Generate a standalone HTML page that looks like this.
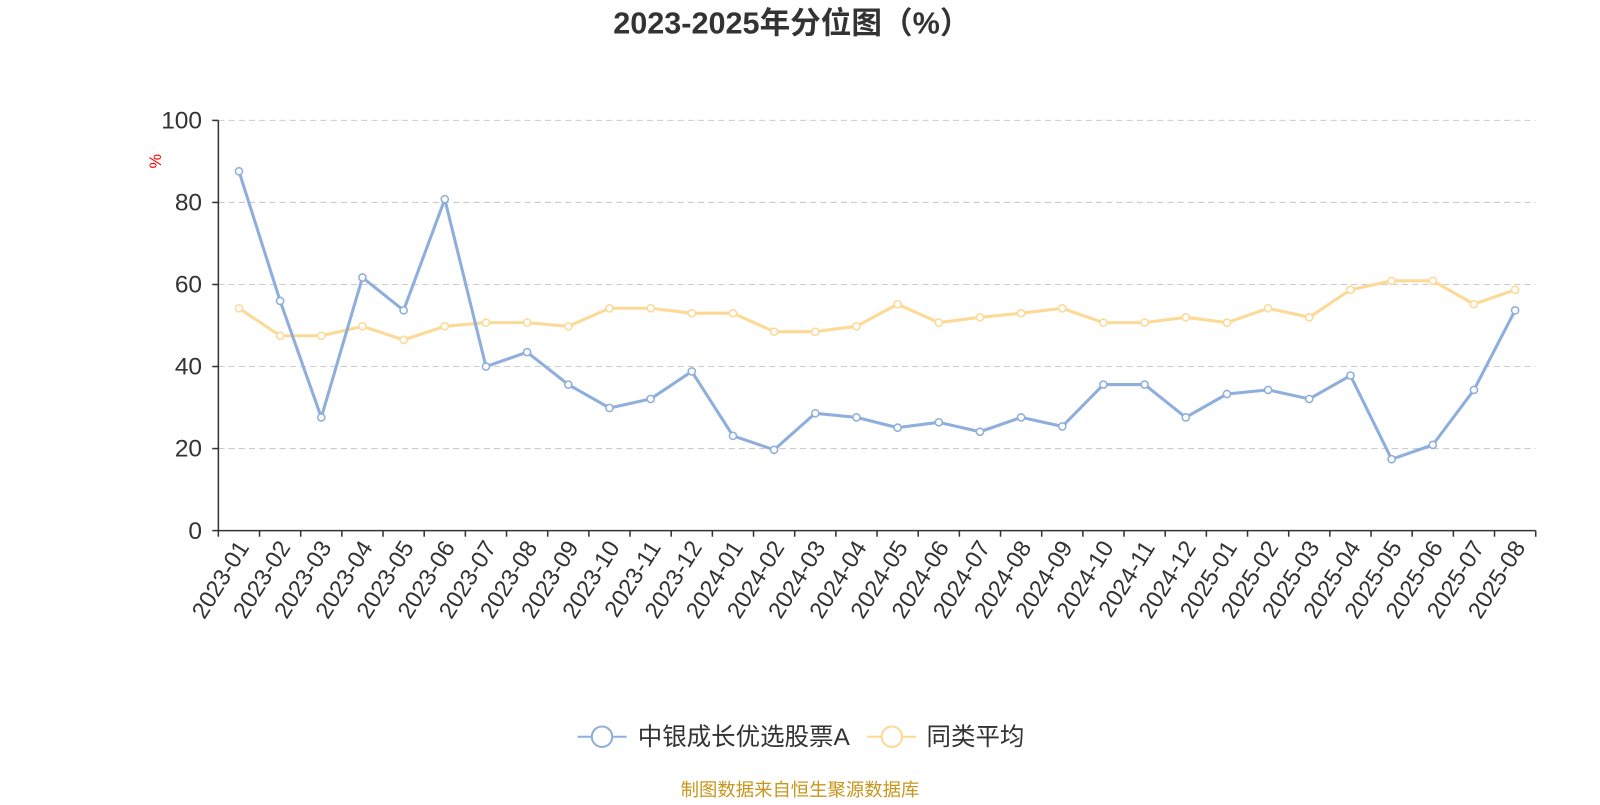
<!DOCTYPE html>
<html><head><meta charset="utf-8"><style>
body{margin:0;background:#fff;width:1600px;height:800px;overflow:hidden;font-family:"Liberation Sans","Noto Sans CJK SC",sans-serif}
</style></head><body>
<svg id="chart" width="1600" height="800" xmlns="http://www.w3.org/2000/svg" font-family="Liberation Sans, Noto Sans CJK SC, sans-serif">
<g transform="scale(1.0204)">
<text x="776" y="33" text-anchor="middle" font-size="30" font-weight="bold" fill="#333">2023-2025年分位图（%）</text>
<text x="158" y="158" font-size="16" fill="red" transform="rotate(-90 158 158)" text-anchor="middle">%</text>
<g id="grid"></g><g id="axes"></g><g id="series"></g>
<g>
<line x1="566" y1="722" x2="614" y2="722" stroke="#8eaedb" stroke-width="2"/>
<circle cx="590" cy="722" r="10" fill="#fff" stroke="#8eaedb" stroke-width="2"/>
<text x="625" y="730" font-size="24" fill="#333">中银成长优选股票A</text>
<line x1="850" y1="722" x2="898" y2="722" stroke="#fdd996" stroke-width="2"/>
<circle cx="874" cy="722" r="10" fill="#fff" stroke="#fdd996" stroke-width="2"/>
<text x="908" y="730" font-size="24" fill="#333">同类平均</text>
</g>
<text x="784" y="780" text-anchor="middle" font-size="18" fill="#c8961e">制图数据来自恒生聚源数据库</text>
</g>
</svg>
<script>
const categories=["2023-01","2023-02","2023-03","2023-04","2023-05","2023-06","2023-07","2023-08","2023-09","2023-10","2023-11","2023-12","2024-01","2024-02","2024-03","2024-04","2024-05","2024-06","2024-07","2024-08","2024-09","2024-10","2024-11","2024-12","2025-01","2025-02","2025-03","2025-04","2025-05","2025-06","2025-07","2025-08"];
const fundValues=[87.6,56,27.6,61.7,53.7,80.8,40,43.5,35.6,29.9,32.1,38.8,23.1,19.7,28.6,27.6,25.1,26.4,24.1,27.6,25.4,35.6,35.6,27.6,33.3,34.3,32.1,37.8,17.4,20.9,34.3,53.7];
const avgValues=[54.2,47.5,47.5,49.8,46.5,49.8,50.7,50.7,49.8,54.2,54.2,53,53,48.5,48.5,49.8,55.2,50.7,52,53,54.2,50.7,50.7,52,50.7,54.2,52,58.7,60.9,60.9,55.2,58.7];
const yTicks=[0,20,40,60,80,100];
const NS="http://www.w3.org/2000/svg";
const X0=214,X1=1505,Y0=520,Y1=118;
const band=(X1-X0)/categories.length;
const xPos=i=>X0+band*(i+0.5);
const yPos=v=>Y0-(v/100)*(Y0-Y1);
function mk(tag,attrs,parent){const e=document.createElementNS(NS,tag);for(const k in attrs)e.setAttribute(k,attrs[k]);parent.appendChild(e);return e;}
const grid=document.getElementById('grid'),axes=document.getElementById('axes'),series=document.getElementById('series');
yTicks.forEach(t=>{
  const y=yPos(t);
  if(t>0){const g=mk('line',{x1:X0,x2:X1,y1:y,y2:y,stroke:'#ccc','stroke-dasharray':'6,4'},grid);
  
  }
  mk('line',{x1:X0-6,x2:X0,y1:y,y2:y,stroke:'#333','stroke-width':1.5},axes);
  const tx=mk('text',{x:X0-16,y:y+8,'text-anchor':'end','font-size':24,fill:'#333'},axes);
  tx.textContent=t;
  
  
});
const ya=mk('line',{x1:X0,x2:X0,y1:Y1,y2:Y0,stroke:'#333','stroke-width':1.5},axes);


const xa=mk('line',{x1:X0,x2:X1,y1:Y0,y2:Y0,stroke:'#333','stroke-width':1.5},axes);


for(let i=0;i<=categories.length;i++){const x=X0+band*i;mk('line',{x1:x,x2:x,y1:Y0,y2:Y0+6,stroke:'#333','stroke-width':1.5},axes);}
categories.forEach((c,i)=>{
  const x=xPos(i)+4,y=Y0+12;
  const t=mk('text',{x:x,y:y+8,'text-anchor':'end','font-size':23,fill:'#333',transform:`rotate(-58 ${x} ${y})`},axes);
  t.textContent=c;
  
  
});
function drawSeries(vals,color,name){
  const p=mk('polyline',{points:vals.map((v,i)=>xPos(i)+','+yPos(v)).join(' '),fill:'none',stroke:color,'stroke-width':3,'stroke-linejoin':'round'},series);
  
  
  vals.forEach((v,i)=>{
    const c=mk('circle',{cx:xPos(i),cy:yPos(v),r:3.5,fill:'#fff',stroke:color,'stroke-width':1.5},series);
    
    
  });
}
drawSeries(avgValues,'#fdd996','average');
drawSeries(fundValues,'#8eaedb','fund');
</script>
</body></html>
